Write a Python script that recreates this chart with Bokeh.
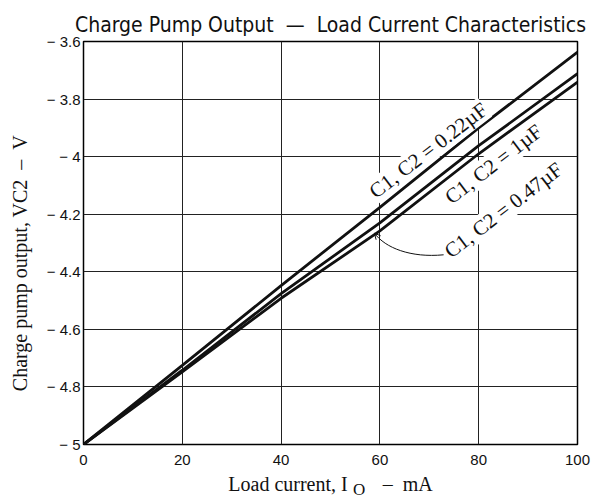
from bokeh.plotting import figure
from bokeh.models import Label, FixedTicker, Arrow, OpenHead, Range1d, LinearAxis
from bokeh.embed import file_html
from bokeh.resources import INLINE

# ---- data ----
load_ma = [0, 20, 40, 60, 80, 100]
vc2_c022 = [-5.0, -4.725, -4.448, -4.176, -3.900, -3.637]
vc2_c1 = [-5.0, -4.742, -4.476, -4.230, -3.962, -3.712]
vc2_c047 = [-5.0, -4.748, -4.492, -4.258, -3.990, -3.741]

x_ticks = [0, 20, 40, 60, 80, 100]
y_ticks = [-5.0, -4.8, -4.6, -4.4, -4.2, -4.0, -3.8, -3.6]
y_tick_labels = ["\u2212 5", "\u2212 4.8", "\u2212 4.6", "\u2212 4.4", "\u2212 4.2",
                 "\u2212 4", "\u2212 3.8", "\u2212 3.6"]

SERIF = "Liberation Serif"
SANS = "Liberation Sans"
NB = "\u00a0"

p = figure(width=592, height=497,
           x_range=Range1d(0, 100), y_range=Range1d(-5, -3.6),
           output_backend="svg", toolbar_location=None,
           min_border_left=83, min_border_right=15,
           min_border_top=41, min_border_bottom=52)

p.title.text = "Charge Pump Output" + NB * 2 + "\u2014" + NB * 2 + "Load Current Characteristics"
p.title.text_font = "DejaVu Sans Condensed"
p.title.text_font_size = "21px"
p.title.text_font_style = "normal"
p.title.align = "center"
p.title.text_color = "#111111"
p.title.standoff = 9

p.outline_line_color = "black"
p.outline_line_width = 1.5
p.background_fill_color = "white"
p.border_fill_color = "white"

p.grid.grid_line_color = "#222222"
p.grid.grid_line_width = 1
p.xgrid.ticker = FixedTicker(ticks=x_ticks)
p.ygrid.ticker = FixedTicker(ticks=y_ticks)

for ax in (p.xaxis[0], p.yaxis[0]):
    ax.axis_line_color = None
    ax.major_tick_line_color = None
    ax.minor_tick_line_color = None
    ax.major_tick_out = 0
    ax.major_tick_in = 0
    ax.major_label_text_font = SANS
    ax.major_label_text_font_size = "15px"
    ax.major_label_text_color = "#111111"

p.xaxis.ticker = FixedTicker(ticks=x_ticks)
p.xaxis.major_label_standoff = 10
p.yaxis.ticker = FixedTicker(ticks=y_ticks)
p.yaxis.major_label_overrides = dict(zip(y_ticks, y_tick_labels))
p.yaxis.major_label_standoff = 3

p.yaxis.axis_label = "Charge pump output, VC2" + NB * 2 + "\u2013" + NB * 2 + "V" + NB * 8
p.yaxis.axis_label_text_font = SERIF
p.yaxis.axis_label_text_font_size = "20px"
p.yaxis.axis_label_text_font_style = "normal"
p.yaxis.axis_label_text_color = "#111111"
p.yaxis.axis_label_standoff = 13

# x axis title: a second, tick-less axis below the first one carries the
# label text; its single tick label is the subscript "O" of I_O
SUB_O_AT = 55.8
xlab = LinearAxis(ticker=FixedTicker(ticks=[SUB_O_AT]),
                  major_label_overrides={SUB_O_AT: "O"},
                  axis_line_color=None, major_tick_line_color=None,
                  minor_tick_line_color=None, major_tick_in=0, major_tick_out=0,
                  major_label_text_font=SERIF, major_label_text_font_size="17px",
                  major_label_text_color="#111111", major_label_standoff=12,
                  axis_label="Load current, I" + NB * 7 + "\u2013" + NB * 2 + "mA",
                  axis_label_text_font=SERIF, axis_label_text_font_size="20px",
                  axis_label_text_font_style="normal", axis_label_text_color="#111111",
                  axis_label_standoff=-29)
p.add_layout(xlab, "below")

# curves
for ys in (vc2_c022, vc2_c1, vc2_c047):
    p.line(load_ma, ys, line_color="#111111", line_width=2.8)

# curve labels
lab_kw = dict(text_font=SERIF, text_font_size="21px", text_color="#111111",
              text_align="center", text_baseline="middle", angle=0.655,
              background_fill_color="white")
p.add_layout(Label(x=69.8, y=-3.978, text="C1, C2 = 0.22\u00b5F", **lab_kw))
p.add_layout(Label(x=83.0, y=-4.026, text="C1, C2 = 1\u00b5F", **lab_kw))
p.add_layout(Label(x=85.0, y=-4.186, text="C1, C2 = 0.47\u00b5F", **lab_kw))

# leader from the 0.47uF label to its curve
p.bezier(x0=[72.9], y0=[-4.341], x1=[58.9], y1=[-4.266],
         cx0=[66.2], cy0=[-4.352], cx1=[61.1], cy1=[-4.317],
         line_color="#111111", line_width=1)
p.add_layout(Arrow(end=OpenHead(size=6, line_width=1, line_color="#111111"),
                   x_start=59.6, y_start=-4.28, x_end=58.9, y_end=-4.266,
                   line_alpha=0))

open("out.html", "w").write(file_html(p, INLINE))
